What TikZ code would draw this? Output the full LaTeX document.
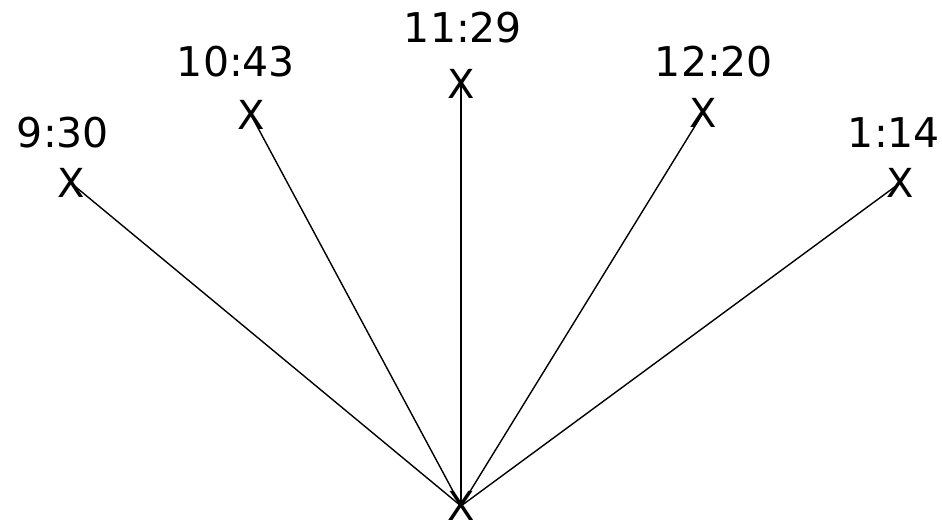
\documentclass[tikz,border=0pt]{standalone}
\usepackage{fontspec}
\setmainfont{DejaVu Sans}
\begin{document}
\begin{tikzpicture}[x=1pt,y=-1pt,
  xmark/.style={inner sep=0pt,font=\fontsize{40}{40}\selectfont},
  tlabel/.style={inner sep=0pt,font=\fontsize{41}{41}\selectfont},
  ray/.style={line width=1.4pt,black}]
\useasboundingbox (0,0) rectangle (942,528);
\node[xmark] (b) at (461,506) {X};
\node[xmark] (p1) at (71,183) {X};
\node[xmark] (p2) at (251,115) {X};
\node[xmark] (p3) at (461,84) {X};
\node[xmark] (p4) at (703,113) {X};
\node[xmark] (p5) at (900,183) {X};
\node[tlabel] (l1) at (63,133) {9:30};
\node[tlabel] (l2) at (236,62) {10:43};
\node[tlabel] (l3) at (463,28) {11:29};
\node[tlabel] (l4) at (714,62) {12:20};
\node[tlabel] (l5) at (894,133) {1:14};
\foreach \p in {p1,p2,p3,p4,p5} \draw[ray] (\p.center) -- (b.center);
\end{tikzpicture}
\end{document}
